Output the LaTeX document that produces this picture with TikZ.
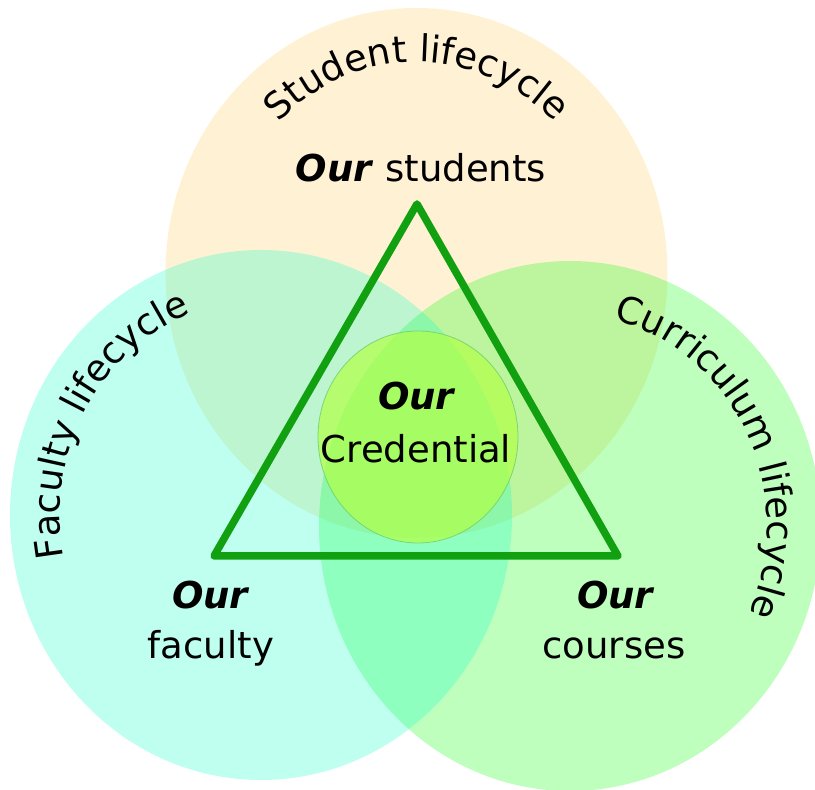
\documentclass[tikz,border=0pt]{standalone}
\usepackage{fontspec}
\setmainfont{DejaVu Sans}[BoldFont={DejaVu Sans Bold},ItalicFont={DejaVu Sans Oblique},BoldItalicFont={DejaVu Sans Bold Oblique}]
\usetikzlibrary{decorations.text}
\definecolor{topc}{RGB}{255,242,212}
\definecolor{leftc}{RGB}{14,255,200}
\definecolor{rightc}{RGB}{14,255,14}
\definecolor{innerc}{RGB}{178,255,70}
\definecolor{innerb}{RGB}{110,205,110}
\definecolor{trig}{RGB}{16,160,16}
\newcommand{\bigfont}{\fontsize{37}{44}\selectfont}
\tikzset{
  lbl/.style={font=\bigfont, inner sep=0pt, anchor=base, text=black},
  arctext/.style={decorate, decoration={text along path, text align=center, text={|\bigfont|#1}}}
}
\begin{document}
\begin{tikzpicture}[x=1pt,y=1pt]
\useasboundingbox (0,0) rectangle (815,790);
\clip (0,0) rectangle (815,790);
\coordinate (ct) at (416.5,517);
\coordinate (cl) at (261,275);
\coordinate (cr) at (570,264);
\coordinate (ci) at (418,353);
\fill[topc] (ct) ellipse [x radius=251pt, y radius=265pt];
\fill[rightc, fill opacity=0.27] (cr) ellipse [x radius=251pt, y radius=265pt];
\fill[leftc, fill opacity=0.27] (cl) ellipse [x radius=251pt, y radius=265pt];
\filldraw[fill=innerc, fill opacity=0.7, draw=innerb, draw opacity=0.8, line width=0.8pt] (ci) ellipse [x radius=100pt, y radius=106pt];
\coordinate (apex) at (417,586);
\coordinate (bl) at (214,234);
\coordinate (br) at (618,234);
\draw[trig, line width=7.5pt, line join=round] (apex) -- (br) -- (bl) -- cycle;
\path[arctext={Student lifecycle}] (ct) ++(180:197pt and 211pt) arc[start angle=180, end angle=0, x radius=197pt, y radius=211pt];
\path[arctext={Faculty lifecycle}] (cl) ++(240:201pt and 215pt) arc[start angle=240, end angle=60, x radius=201pt, y radius=215pt];
\path[arctext={Curriculum lifecycle}] (cr) ++(117:197pt and 211pt) arc[start angle=117, end angle=-63, x radius=197pt, y radius=211pt];
\node[lbl] (stu) at (421,608) {\textbf{\textit{Our}} students};
\node[lbl] (cred1) at (417,380) {\textbf{\textit{Our}}};
\node[lbl] (cred2) at (416,327) {Credential};
\node[lbl] (fac1) at (211,181) {\textbf{\textit{Our}}};
\node[lbl] (fac2) at (211,131) {faculty};
\node[lbl] (cou1) at (616,181) {\textbf{\textit{Our}}};
\node[lbl] (cou2) at (614,131) {courses};
\end{tikzpicture}
\end{document}
